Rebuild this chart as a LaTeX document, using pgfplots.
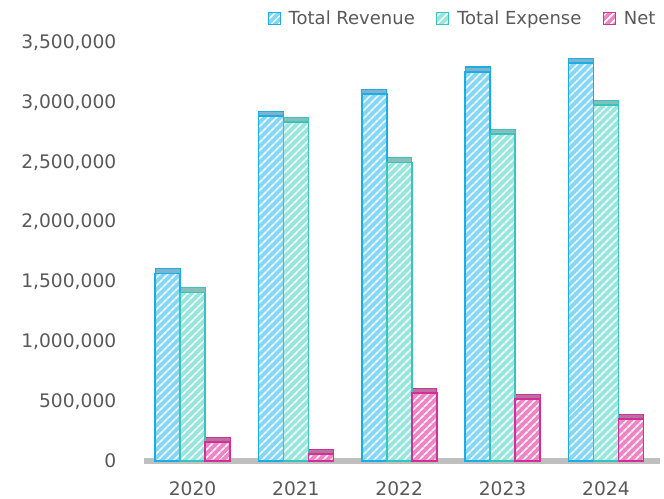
\documentclass[border=0pt]{standalone}
\usepackage{pgfplots}
\pgfplotsset{compat=1.18}
\usepackage{fontspec}
\setmainfont{DejaVu Sans}
\usetikzlibrary{patterns.meta}
\definecolor{txt}{HTML}{595959}
\definecolor{revE}{HTML}{1AAEE6}
\definecolor{revF}{HTML}{86D6F6}
\definecolor{revT}{HTML}{7FB2CC}
\definecolor{expE}{HTML}{36C4BC}
\definecolor{expF}{HTML}{98E6DE}
\definecolor{expT}{HTML}{86BEB8}
\definecolor{netE}{HTML}{D42E98}
\definecolor{netF}{HTML}{EC86C4}
\definecolor{netT}{HTML}{B8729E}
\pgfplotstableread{
x rev exp net
0 1570000 1410000 160000
1 2890000 2840000 60000
2 3070000 2500000 570000
3 3260000 2740000 520000
4 3330000 2980000 350000
}\data
\begin{document}
\begin{tikzpicture}[font=\fontsize{14}{16}\selectfont]
\begin{axis}[
  scale only axis,
  width=386pt, height=313.5pt,
  xmin=-0.46, xmax=4.52,
  ymin=0, ymax=3500000,
  ytick={0,500000,...,3500000},
  xtick=data,
  xticklabels={2020,2021,2022,2023,2024},
  scaled y ticks=false,
  /pgf/number format/.cd, fixed, 1000 sep={,}, assume math mode=true,
  /pgfplots/.cd,
  axis line style={draw=none},
  tick style={draw=none},
  ticklabel style={text=txt},
  yticklabel style={xshift=-18pt},
  xticklabel style={yshift=-8pt},
  ybar, bar width=18.75pt,
  legend style={at={(1,1)}, anchor=south east, yshift=8pt, xshift=2pt, draw=none, fill=none,
    text=txt, font=\fontsize{13.5}{15}\selectfont, column sep=8pt,
    /tikz/every odd column/.append style={column sep=4pt}},
  legend columns=-1,
  legend image code/.code={\draw[#1, line width=0.8pt] (0pt,-4.5pt) rectangle (9pt,4.5pt);},
  clip=false,
]
\draw[line width=4pt, black!25] (axis cs:-0.47,0) -- (axis cs:4.52,0);
% 3D top slabs
\addplot[forget plot, bar shift=-18.75pt, yshift=3.5pt, fill=revT, draw=revE, line width=0.8pt] table[x=x,y=rev]{\data};
\addplot[forget plot, bar shift=0pt, yshift=3.5pt, fill=expT, draw=expE, line width=0.8pt] table[x=x,y=exp]{\data};
\addplot[forget plot, bar shift=18.75pt, yshift=3.5pt, fill=netT, draw=netE, line width=0.8pt] table[x=x,y=net]{\data};
% front faces
\addplot[bar shift=-18.75pt, fill=revF, draw=revE, line width=1.3pt,
  postaction={pattern color=white, pattern={Lines[angle=45,distance=4pt,line width=1.3pt]}}]
  table[x=x,y=rev]{\data};
\addplot[bar shift=0pt, fill=expF, draw=expE, line width=1.3pt,
  postaction={pattern color=white, pattern={Lines[angle=45,distance=4pt,line width=1.3pt]}}]
  table[x=x,y=exp]{\data};
\addplot[bar shift=18.75pt, fill=netF, draw=netE, line width=1.3pt,
  postaction={pattern color=white, pattern={Lines[angle=45,distance=4pt,line width=1.3pt]}}]
  table[x=x,y=net]{\data};
\legend{Total Revenue\hspace*{6pt}, Total Expense\hspace*{6pt}, Net}
\end{axis}
\pgfresetboundingbox
\path (-108.75pt,-28.5pt) rectangle (389.25pt,345.75pt);
\end{tikzpicture}
\end{document}
